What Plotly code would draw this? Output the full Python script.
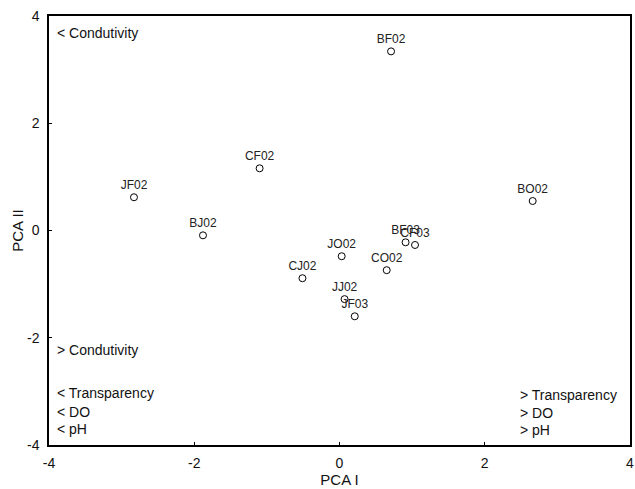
import plotly.graph_objects as go

sites = ["BF02", "CF02", "JF02", "BJ02", "BO02", "JO02", "CJ02", "CO02", "BF03", "CF03", "JJ02", "JF03"]
pca1 = [0.71, -1.10, -2.83, -1.88, 2.66, 0.03, -0.51, 0.65, 0.91, 1.04, 0.07, 0.21]
pca2 = [3.34, 1.16, 0.62, -0.09, 0.55, -0.48, -0.89, -0.74, -0.22, -0.27, -1.28, -1.60]

ticks = [-4, -2, 0, 2, 4]
tick_labels = ["-4", "-2", "0", "2", "4"]

left_notes = ["< Condutivity", "> Condutivity", "< Transparency", "< DO", "< pH"]
right_notes = ["> Transparency", "> DO", "> pH"]

font = "Liberation Sans, Arial, sans-serif"

fig = go.Figure()
fig.add_trace(go.Scatter(
    x=pca1, y=pca2, mode="markers+text", text=sites,
    textposition="top center",
    textfont=dict(family=font, size=12, color="#222"),
    marker=dict(symbol="circle-open", size=7, color="black", line=dict(width=1, color="black")),
    showlegend=False, cliponaxis=False,
))

# paper coordinates for the side notes (plot area spans y 16..445 px)
left_y = [0.960, 0.2214, 0.1212, 0.0769, 0.0373]
for t, yy in zip(left_notes, left_y):
    fig.add_annotation(text=t, x=0.0103, y=yy, xref="paper", yref="paper",
                       xanchor="left", yanchor="middle", showarrow=False,
                       font=dict(family=font, size=14, color="#111"))
right_y = [0.1166, 0.0753, 0.035]
for t, yy in zip(right_notes, right_y):
    fig.add_annotation(text=t, x=0.807, y=yy, xref="paper", yref="paper",
                       xanchor="left", yanchor="middle", showarrow=False,
                       font=dict(family=font, size=14, color="#111"))

axis_common = dict(
    range=[-4, 4], tickvals=ticks, ticktext=tick_labels, ticks="inside", ticklen=3, tickwidth=1,
    tickcolor="black", showline=True, linecolor="black", linewidth=1.5,
    mirror=True, showgrid=False, zeroline=False, automargin=False,
    tickfont=dict(family=font, size=14, color="#111"),
)
fig.update_xaxes(**axis_common, ticklabelstandoff=4,
                 title=dict(text="PCA I", font=dict(family=font, size=15, color="#111"), standoff=4))
fig.update_yaxes(**axis_common, ticklabelstandoff=5,
                 title=dict(text="PCA II", font=dict(family=font, size=15, color="#111"), standoff=0))

fig.update_layout(
    width=635, height=489,
    margin=dict(l=49, r=5, t=16, b=44),
    plot_bgcolor="white", paper_bgcolor="white",
)
fig.write_html("out.html", config={"displayModeBar": False},
               post_script="document.body.style.margin='0';document.body.style.overflow='hidden';")
